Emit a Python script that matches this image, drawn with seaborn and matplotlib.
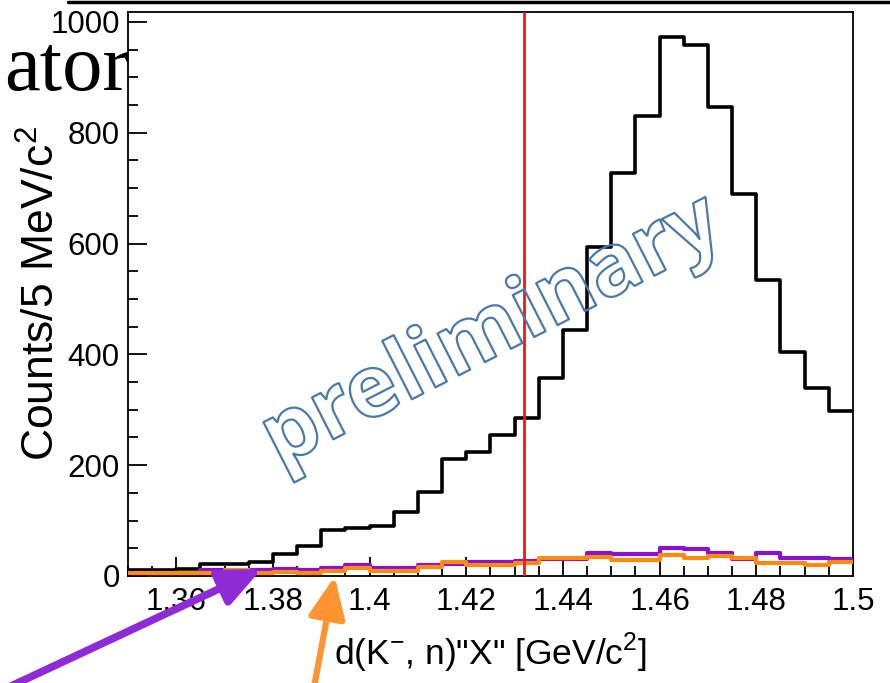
import numpy as np
import pandas as pd
import matplotlib
matplotlib.use("Agg")
import matplotlib.pyplot as plt
import seaborn as sns
from matplotlib.ticker import MultipleLocator, FixedLocator, FixedFormatter
import matplotlib.patheffects as pe
from matplotlib.patches import FancyArrowPatch
from matplotlib.lines import Line2D

# ---------------- data ----------------
bin_lo = 1.35
bin_hi = 1.50
n_bins = 30
total_counts = [11, 11, 12, 21, 21, 25, 40, 55, 83, 87,
                90, 116, 152, 211, 223, 255, 286, 358, 444, 594,
                727, 830, 973, 958, 846, 689, 534, 405, 340, 298]
purple_counts = [5, 5, 5, 11, 6, 10, 12, 11, 14, 20,
                 14, 14, 20, 21, 25, 26, 27, 30, 30, 41,
                 39, 39, 50, 48, 41, 31, 41, 32, 32, 30]
orange_counts = [6, 6, 6, 6, 11, 6, 7, 6, 9, 14,
                 9, 9, 17, 25, 20, 20, 23, 32, 32, 35,
                 29, 29, 38, 33, 36, 33, 23, 23, 20, 26]
cut_position = 1.432
x_ticks = [1.36, 1.38, 1.40, 1.42, 1.44, 1.46, 1.48, 1.50]
x_tick_labels = ["1.36", "1.38", "1.4", "1.42", "1.44", "1.46", "1.48", "1.5"]
y_ticks = [0, 200, 400, 600, 800, 1000]
y_tick_labels = ["0", "200", "400", "600", "800", "1000"]

edges = [float(e) for e in np.linspace(bin_lo, bin_hi, n_bins + 1)]
centers = [0.5 * (a + b) for a, b in zip(edges[:-1], edges[1:])]
df = pd.DataFrame({"mass": centers, "total": total_counts,
                   "purple": purple_counts, "orange": orange_counts})

# ---------------- style ----------------
sns.set_style("white")
plt.rcParams["font.family"] = ["Liberation Sans", "DejaVu Sans"]
plt.rcParams["text.color"] = "black"
plt.rcParams["axes.labelcolor"] = "black"

BLACK = "#000000"
PURPLE = "#8a10d4"
ORANGE = "#ff8a10"
RED = "#ff1010"

fig = plt.figure(figsize=(8.9, 6.83), dpi=100)
ax = fig.add_axes([0.1438, 0.1567, 0.8146, 0.8258])

sns.histplot(data=df, x="mass", weights="total", bins=edges, element="step",
             fill=False, color=BLACK, linewidth=2.6, ax=ax, zorder=3)
sns.histplot(data=df, x="mass", weights="purple", bins=edges, element="step",
             fill=False, color=PURPLE, linewidth=3.0, ax=ax, zorder=4)
sns.histplot(data=df, x="mass", weights="orange", bins=edges, element="step",
             fill=False, color=ORANGE, linewidth=3.0, ax=ax, zorder=5)

ax.axvline(cut_position, color=RED, linewidth=2.0, zorder=6)

ax.set_xlim(bin_lo, bin_hi)
ax.set_ylim(0, 1018)

ax.xaxis.set_major_locator(FixedLocator(x_ticks))
ax.xaxis.set_major_formatter(FixedFormatter(x_tick_labels))
ax.xaxis.set_minor_locator(MultipleLocator(0.005))
ax.yaxis.set_major_locator(FixedLocator(y_ticks))
ax.yaxis.set_major_formatter(FixedFormatter(y_tick_labels))
ax.yaxis.set_minor_locator(MultipleLocator(50))

ax.tick_params(axis="both", which="both", bottom=True, left=True, top=False, right=False)
ax.tick_params(axis="both", which="major", direction="in", length=14,
               width=1.3, labelsize=22.5, color="black", labelcolor="black")
ax.tick_params(axis="both", which="minor", direction="in", length=7,
               width=1.3, color="black")
ax.tick_params(axis="x", which="major", pad=8)
ax.tick_params(axis="y", which="major", pad=6)

for s in ax.spines.values():
    s.set_visible(True)
    s.set_color("black")
    s.set_linewidth(1.3)

ax.set_xlabel('d(K$^{\\mathregular{-}}$, n)"X" [GeV/c$^{\\mathregular{2}}$]',
              fontsize=25.5, color="black")
ax.set_ylabel("Counts/5 MeV/c$^{\\mathregular{2}}$", fontsize=32, color="black")
ax.xaxis.set_label_coords(0.5, -0.097)
ax.yaxis.set_label_coords(-0.089, 0.5)

# watermark
ax.text(0.503, 0.431, "preliminary", transform=ax.transAxes, rotation=27,
        ha="center", va="center", fontsize=62, fontweight="bold",
        family=["Open Sans", "DejaVu Sans"],
        color="none", zorder=7,
        path_effects=[pe.Stroke(linewidth=1.6, foreground="#4a78a8")])

# slide decorations
fig.add_artist(Line2D([0.076, 1.0], [0.997, 0.997], transform=fig.transFigure,
                      color="black", linewidth=2.5))
fig.text(0.145, 0.868, "ator", ha="right", va="baseline", fontsize=58,
         family=["Liberation Serif", "DejaVu Serif"], color="black")

fig.add_artist(FancyArrowPatch((0.0, -0.012), (0.294, 0.167), transform=fig.transFigure,
                               arrowstyle="-|>,head_length=0.9,head_width=0.4",
                               mutation_scale=28, linewidth=5.5, color="#8e2ad6",
                               shrinkA=0, shrinkB=0, zorder=10))
fig.add_artist(FancyArrowPatch((0.352, -0.012), (0.376, 0.156), transform=fig.transFigure,
                               arrowstyle="-|>,head_length=0.9,head_width=0.4",
                               mutation_scale=28, linewidth=4.5, color="#ff9430",
                               shrinkA=0, shrinkB=0, zorder=10))

fig.savefig("out.png", dpi=100)
